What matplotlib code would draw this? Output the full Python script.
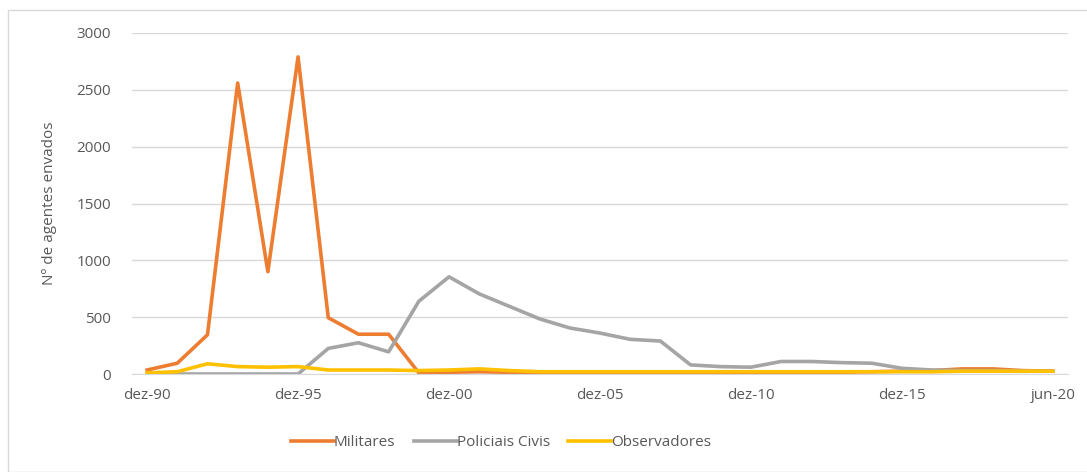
import matplotlib.pyplot as plt
from matplotlib.patches import Rectangle

plt.rcParams['font.family'] = ['Open Sans', 'DejaVu Sans']

# categorias (dez-90 ... dez-19, jun-20)
periodos = ['dez-%02d' % (y % 100) for y in range(1990, 2020)] + ['jun-20']

militares = [35, 95, 345, 2560, 900, 2790, 495, 350, 350, 10,
             15, 20, 15, 10, 10, 10, 10, 10, 10, 10,
             10, 15, 15, 15, 20, 25, 30, 45, 45, 30, 25]
policiais = [0, 0, 0, 0, 0, 0, 225, 275, 195, 640,
             855, 705, 595, 485, 405, 360, 305, 290, 80, 65,
             60, 110, 110, 100, 95, 50, 35, 30, 30, 25, 25]
observadores = [10, 20, 90, 65, 60, 65, 35, 35, 35, 30,
                35, 45, 30, 20, 20, 20, 20, 20, 20, 20,
                20, 20, 20, 20, 20, 20, 20, 25, 25, 25, 25]

cor_texto = '#595959'
fs = 11

fig = plt.figure(figsize=(10.87, 4.72), dpi=100)
ax = fig.add_axes([132 / 1087, 1 - 374 / 472, (1068 - 132) / 1087, (374 - 33) / 472])

# moldura do gráfico
fig.patches.append(Rectangle((8 / 1087, 0.0), 1.0, 1 - 10 / 472, transform=fig.transFigure,
                             fill=False, edgecolor='#D9D9D9', linewidth=1))

x = list(range(len(periodos)))
ax.plot(x, militares, color='#ED7D31', linewidth=2.6, label='Militares', solid_joinstyle='round')
ax.plot(x, policiais, color='#A5A5A5', linewidth=2.6, label='Policiais Civis', solid_joinstyle='round')
ax.plot(x, observadores, color='#FFC000', linewidth=2.6, label='Observadores', solid_joinstyle='round')

ax.set_xlim(-0.5, len(periodos) - 0.5)
ax.set_ylim(0, 3000)
ax.set_yticks(range(0, 3001, 500))
ax.set_xticks(x[::5])
ax.set_xticklabels(periodos[::5])

ax.grid(axis='y', color='#D9D9D9', linewidth=1)
ax.set_axisbelow(True)
for s in ['top', 'right', 'left']:
    ax.spines[s].set_visible(False)
ax.spines['bottom'].set_color('#D9D9D9')
ax.tick_params(axis='both', length=0, labelsize=fs, labelcolor=cor_texto)
ax.tick_params(axis='y', pad=15)
ax.tick_params(axis='x', pad=10)

ax.set_ylabel('Nº de agentes envados', fontsize=fs, color=cor_texto, labelpad=14)

fig.legend(loc='center', bbox_to_anchor=(501 / 1087, 1 - 443 / 472), ncol=3, frameon=False,
           fontsize=fs, labelcolor=cor_texto, handlelength=2.8, handletextpad=0.0,
           columnspacing=1.2)

plt.savefig('out.png', dpi=100)
